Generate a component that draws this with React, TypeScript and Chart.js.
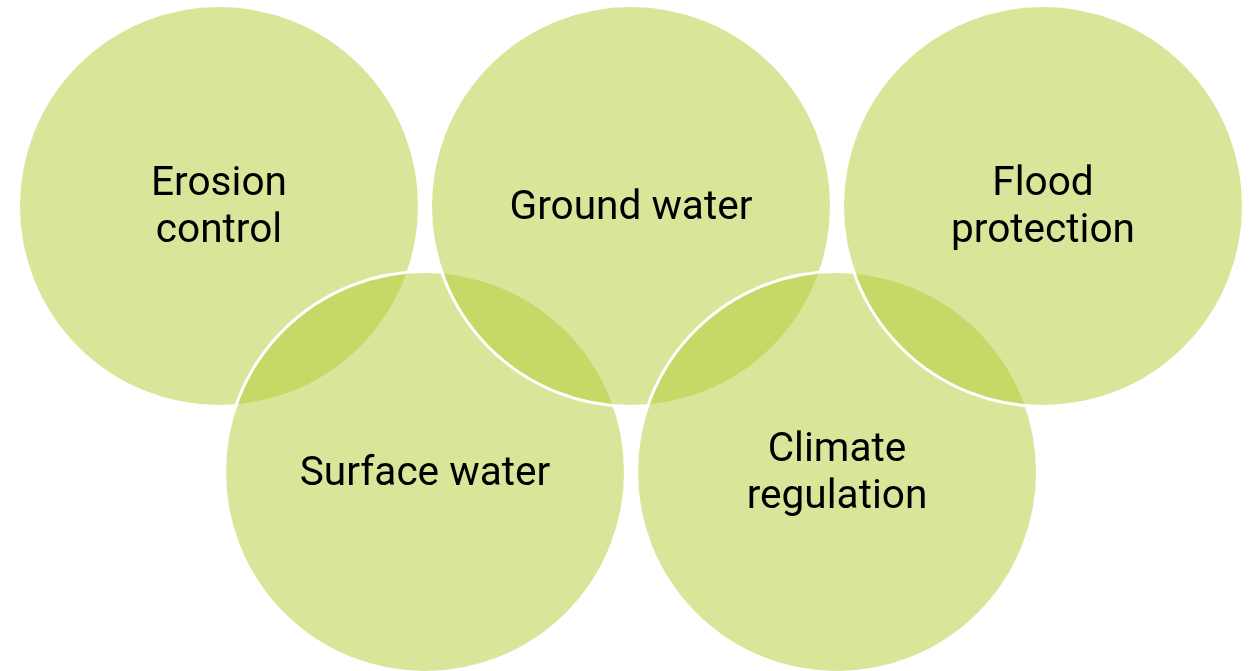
import React, { useEffect, useRef } from "react";
import { Chart, registerables } from "chart.js";

Chart.register(...registerables);

// Drawing order (later circles overlap earlier ones)
const labels: string[][] = [
  ["Erosion", "control"],
  ["Surface water"],
  ["Ground water"],
  ["Climate", "regulation"],
  ["Flood", "protection"],
];
const xPos = [0, 1, 2, 3, 4];
const yRow = [0, 1, 0, 1, 0];
const radius = [200.5, 200.5, 200.5, 200.5, 200.5];

const W = 1250;
const H = 671;
const X0 = 219; // pixel of x=0
const XSTEP = 206;
const Y0 = 206; // pixel of row 0
const YSTEP = 266;

const labelPlugin = {
  id: "circleLabels",
  afterDatasetsDraw(chart: any) {
    const ctx = chart.ctx;
    const meta = chart.getDatasetMeta(0);
    ctx.save();
    ctx.fillStyle = "#000000";
    ctx.font = "40.6px Roboto";
    ctx.textAlign = "center";
    ctx.textBaseline = "middle";
    const lh = 47;
    meta.data.forEach((el: any, i: number) => {
      const lines = labels[i];
      const start = el.y + 2.5 - ((lines.length - 1) * lh) / 2;
      lines.forEach((ln, j) => ctx.fillText(ln, el.x, start + j * lh));
    });
    ctx.restore();
  },
};

export default function App() {
  const ref = useRef<HTMLCanvasElement | null>(null);
  useEffect(() => {
    if (!ref.current) return;
    const chart = new Chart(ref.current, {
      type: "bubble",
      data: {
        datasets: [
          {
            data: xPos.map((x, i) => ({ x, y: yRow[i], r: radius[i] })),
            backgroundColor: "rgba(181,203,52,0.5)",
            borderColor: "#ffffff",
            borderWidth: 3,
            hoverRadius: 0,
            clip: false as any,
          },
        ],
      },
      options: {
        animation: false,
        responsive: false,
        events: [],
        layout: { padding: 0, autoPadding: false },
        plugins: { legend: { display: false }, tooltip: { enabled: false } },
        scales: {
          x: { type: "linear", display: false, min: -X0 / XSTEP, max: (W - X0) / XSTEP },
          y: { type: "linear", display: false, reverse: true, min: -Y0 / YSTEP, max: (H - Y0) / YSTEP },
        },
      },
      plugins: [labelPlugin],
    });
    return () => chart.destroy();
  }, []);
  return (
    <div style={{ position: "fixed", left: 0, top: 0, width: W, height: H, background: "#fff" }}>
      <canvas ref={ref} width={W} height={H} style={{ display: "block" }} />
    </div>
  );
}
